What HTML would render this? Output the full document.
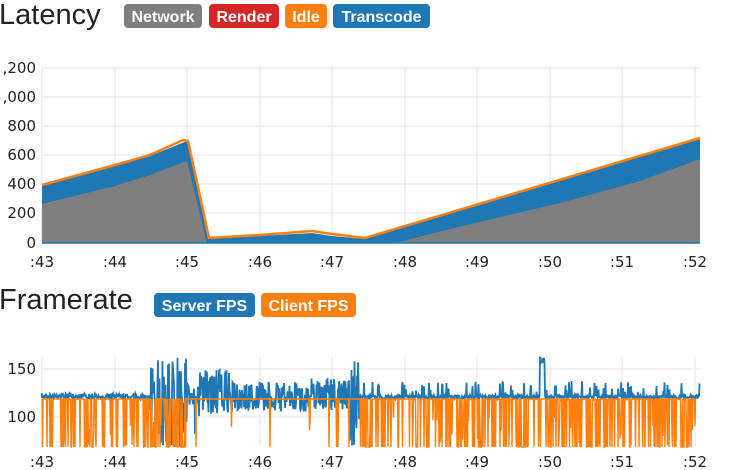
<!DOCTYPE html>
<html><head><meta charset="utf-8">
<style>
html,body{margin:0;padding:0;background:#fff;width:732px;height:470px;overflow:hidden}
svg{display:block}
.t{font-family:"Liberation Sans",sans-serif;font-size:29px;fill:#222}
.b{font-family:"Liberation Sans",sans-serif;font-size:16px;font-weight:bold;fill:#fff}
.a{font-family:"DejaVu Sans",sans-serif;font-size:15px;fill:#222}
</style></head><body>
<svg id="s" width="732" height="470" xmlns="http://www.w3.org/2000/svg">
<text class="t" x="-1" y="24">Latency</text>
<rect x="124" y="4" width="78" height="24" rx="4" fill="#7f7f7f"/><text class="b" x="163" y="22" text-anchor="middle">Network</text>
<rect x="209" y="4" width="70" height="24" rx="4" fill="#d62728"/><text class="b" x="244" y="22" text-anchor="middle">Render</text>
<rect x="285" y="4" width="42" height="24" rx="4" fill="#ff7f0e"/><text class="b" x="306" y="22" text-anchor="middle">Idle</text>
<rect x="333" y="4" width="97" height="24" rx="4" fill="#1f77b4"/><text class="b" x="381.5" y="22" text-anchor="middle">Transcode</text>

<text class="t" x="-1" y="309">Framerate</text>
<rect x="154" y="293" width="101" height="24" rx="4" fill="#1f77b4"/><text class="b" x="204.5" y="311" text-anchor="middle">Server FPS</text>
<rect x="261" y="293" width="95" height="24" rx="4" fill="#ff7f0e"/><text class="b" x="308.5" y="311" text-anchor="middle">Client FPS</text>

<g id="grid" stroke="#e6e6e6" stroke-width="1"></g>
<g id="lab"></g>
<polygon fill="#1f77b4" points="42,243 42,186 115,166 150,156 187,141 208,239 260,236 312,233 332,236 365,239 700,139 700,243"/>
<polygon fill="#7f7f7f" points="42,243 42,204 115,186 150,175 187,161 207,243 395,243 450,229 560,203 640,181 700,159 700,243"/>
<polyline fill="none" stroke="#ff7f0e" stroke-width="2.5" points="42,185 115,165 150,155 183,140 188,141 209,238 260,235 312,231 332,234 365,238 700,138"/>
<line x1="42" y1="243" x2="700" y2="243" stroke="#1f77b4" stroke-width="1.5"/>
<path id="blue" fill="none" stroke="#1f77b4" stroke-width="1.8"/>
<path id="orange" fill="none" stroke="#ff7f0e" stroke-width="1.4"/>
</svg>
<script>
var xs=[42,115,187,260,332,405,477,550,622,695],names=[":43",":44",":45",":46",":47",":48",":49",":50",":51",":52"];
var g=document.getElementById('grid'),l=document.getElementById('lab'),NS="http://www.w3.org/2000/svg";
function ln(x1,y1,x2,y2){var e=document.createElementNS(NS,'line');e.setAttribute('x1',x1);e.setAttribute('y1',y1);e.setAttribute('x2',x2);e.setAttribute('y2',y2);g.appendChild(e);}
function tx(x,y,s,a){var e=document.createElementNS(NS,'text');e.setAttribute('x',x);e.setAttribute('y',y);e.setAttribute('class','a');e.setAttribute('text-anchor',a);e.textContent=s;l.appendChild(e);}
xs.forEach(function(x,i){ln(x,66,x,243);ln(x,357,x,447);tx(x,267,names[i],'middle');tx(x,467,names[i],'middle');});
var yl=[[243,"0"],[213,"200"],[184,"400"],[155,"600"],[126,"800"],[97,",000"],[68,",200"]];
yl.forEach(function(p){ln(42,p[0],700,p[0]);tx(36,p[0]+5,p[1],'end');});
ln(42,369,700,369);ln(42,417,700,417);tx(36,374,"150",'end');tx(36,422,"100",'end');
var seed=7;function r(){seed=(seed*16807)%2147483647;return (seed-1)/2147483646;}
var b="M42,398",o="M42,399";
for(var x=42;x<=700;x+=0.5){
 var y;
 if(x<150)y=397+(r()-0.6)*6;
 else if(x<187)y=357+r()*90;
 else if(x<200)y=385+r()*40*(r()<0.3?2:0.5);
 else if(x<232)y=370+r()*45;
 else if(x<310)y=382+r()*30;
 else if(x<350)y=378+r()*32;
 else if(x<360)y=360+r()*87;
 else if(x<540)y=397+(r()-0.5)*4-(r()<0.1?6+r()*10:0);
 else if(x<545)y=357+r()*10;
 else y=397+(r()-0.5)*4-(r()<0.1?6+r()*10:0);
 b+="L"+x.toFixed(1)+","+y.toFixed(1);
 var p;
 if(x<150)p=0.3;else if(x<187)p=0.5;else if(x<360)p=0.02;else p=0.35;
 var oy=399;if(x>696)continue;
 if(r()<p)oy=447-(r()<0.2?r()*30:0);
 o+="L"+x.toFixed(1)+","+oy;
}
document.getElementById('blue').setAttribute('d',b);
document.getElementById('orange').setAttribute('d',o);
</script>
</body></html>
